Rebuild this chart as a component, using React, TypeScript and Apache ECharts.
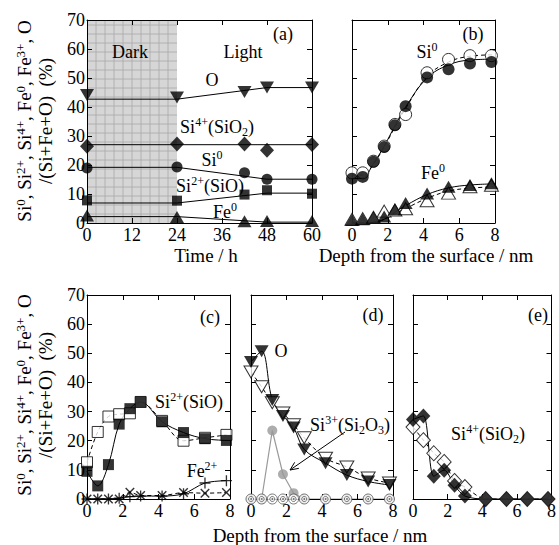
import React, { useEffect, useRef } from 'react';
import * as echarts from 'echarts';

// ---------------- Data ----------------
// Panel (a): time dependence
const timeH = [0, 24, 42, 48, 60];
const aO = [44.1, 43.3, 45.2, 46.7, 46.7];
const aSi4 = [26.5, 27.2, 27.2, 25.1, 27.1];
const aSi0 = [19.0, 19.3, 17.3, 15.1, 15.1];
const aSi2 = [7.8, 7.7, 9.8, 11.3, 10.1];
const aFe0 = [2.6, 2.1, 0.6, 0.7, 0.7];
// guide lines of panel (a)
const fitTime = [0, 24, 48, 60];
const aOFit = [42.7, 42.7, 46.7, 46.7];
const aSi4Fit = [27.0, 27.0, 27.0, 27.0];
const aSi0Fit = [19.2, 19.2, 15.1, 15.1];
const aSi2Fit = [6.9, 6.9, 10.3, 10.3];
const aFe0Fit = [2.2, 2.2, 0.3, 0.3];
const darkPeriod = [0, 24];

// Depth profiles
const depth = [0, 0.6, 1.2, 1.8, 2.4, 3.0, 4.2, 5.4, 6.6, 7.8];
const fitDepth = [0, 0.6, 1.2, 1.8, 2.4, 3.0, 4.2, 5.4, 6.6, 8.0];

// Panel (b)
const bSi0Filled = [15.3, 15.9, 21.1, 26.2, 33.7, 40.3, 50.2, 53.0, 55.0, 55.5];
const bSi0Open = [17.3, 17.3, 21.3, 26.5, 34.0, 37.4, 51.8, 56.4, 57.7, 57.7];
const bFe0Filled = [1.0, 1.3, 2.0, 2.2, 4.7, 6.9, 10.2, 12.5, 13.1, 13.7];
const bFe0Open = [1.3, 1.5, 2.0, 4.1, 4.5, 4.9, 7.7, 10.3, 12.5, 13.0];
const bSi0FitSolid = [15.3, 15.6, 20.5, 26.5, 33.5, 40.0, 50.0, 54.5, 56.2, 56.5];
const bSi0FitDash = [16.5, 16.5, 20.3, 26.3, 33.0, 39.5, 50.5, 55.5, 57.5, 58.0];
const bFe0FitSolid = [0.2, 0.0, 0.3, 1.3, 3.7, 6.0, 9.8, 12.1, 13.1, 13.5];
const bFe0FitDash = [0.1, 0.0, 0.2, 1.2, 3.2, 5.0, 8.5, 11.0, 12.0, 12.5];

// Panel (c)
const cSi2Filled = [9.5, 4.5, 11.8, 25.7, 31.0, 33.3, 26.5, 22.8, 20.7, 20.1];
const cSi2Open = [12.6, 23.0, 28.3, 29.1, 29.4, 33.3, 26.8, 20.0, 21.0, 22.0];
const cFePlus = [0, 0, 0, 0.3, 0.8, 1.0, 1.0, 1.8, 5.5, 6.3];
const cFeCross = [0, 0, 0, 0, 2.3, 1.2, 1.2, 2.2, 2.0, 2.2];

// Panel (d)
const dOFilled = [47.0, 50.7, 34.0, 28.5, 24.5, 17.0, 12.3, 8.2, 6.0, 4.8];
const dOOpen = [43.6, 38.5, 33.0, 29.5, 25.5, 21.0, 14.0, 11.0, 7.2, 5.5];
const dSi3Filled = [0, 0, 23.5, 8.5, 2.0, 0, 0, 0, 0, 0];
const dSi3Open = [0, 0, 0, 0, 0, 0, 0, 0, 0, 0];

// Panel (e)
const eSi4Filled = [27.3, 28.5, 7.8, 9.9, 4.7, 1.0, 0, 0, 0, 0];
const eSi4Open = [24.7, 20.2, 15.7, 12.7, 6.2, 4.1, 0, 0, 0, 0];

// Axis ticks
const pctMin = 0, pctMax = 70, pctStep = 10;
const timeMin = 0, timeMax = 60, timeStep = 12;
const depthMin = 0, depthMax = 8, depthStep = 2;

// ---------------- Styling helpers ----------------
const FONT = '"Liberation Serif", "Times New Roman", Times, serif';
const PLUS = 'path://M4.4,0H5.6V4.4H10V5.6H5.6V10H4.4V5.6H0V4.4H4.4Z';

const pts = (xs: number[], ys: number[]) => xs.map((x, i) => [x, ys[i]]);

function xAxesFor(gi: number, min: number, max: number, interval: number) {
  const base: any = {
    type: 'value', gridIndex: gi, min, max, interval, z: 4,
    splitLine: { show: false },
    axisLine: { show: true, onZero: false, lineStyle: { color: '#000', width: 1 } },
    axisTick: { show: true, inside: true, length: 5, lineStyle: { color: '#000', width: 1 } },
  };
  return [
    { ...base, position: 'bottom', axisLabel: { show: true, margin: 3, color: '#000', fontFamily: FONT, fontSize: 18 } },
    { ...base, position: 'top', axisLabel: { show: false } },
  ];
}
function yAxesFor(gi: number, labels: boolean) {
  const base: any = {
    type: 'value', gridIndex: gi, min: pctMin, max: pctMax, interval: pctStep, z: 4,
    splitLine: { show: false },
    axisLine: { show: true, onZero: false, lineStyle: { color: '#000', width: 1 } },
    axisTick: { show: true, inside: true, length: 5, lineStyle: { color: '#000', width: 1 } },
  };
  return [
    { ...base, position: 'left', axisLabel: { show: labels, margin: 2, color: '#000', fontFamily: FONT, fontSize: 18 } },
    { ...base, position: 'right', axisLabel: { show: false } },
  ];
}

function markers(gi: number, xs: number[], ys: number[], symbol: string, size: any, filled: boolean, extra: any = {}) {
  return {
    type: 'scatter', xAxisIndex: 2 * gi, yAxisIndex: 2 * gi, data: pts(xs, ys),
    symbol, symbolSize: size, clip: false, z: 6, silent: true,
    itemStyle: filled ? { color: '#000' } : { color: '#fff', borderColor: '#000', borderWidth: 1 },
    ...extra,
  };
}
function curve(gi: number, xs: number[], ys: number[], dashed: boolean, smooth: any, extra: any = {}) {
  return {
    type: 'line', xAxisIndex: 2 * gi, yAxisIndex: 2 * gi, data: pts(xs, ys),
    symbol: 'none', smooth, clip: false, z: 3, silent: true,
    lineStyle: { color: '#000', width: 1, type: dashed ? [4, 3] : 'solid' },
    ...extra,
  };
}

const rich: any = {
  n: { fontFamily: FONT, fontSize: 18, color: '#000', lineHeight: 22 },
  sup: { fontFamily: FONT, fontSize: 12, color: '#000', lineHeight: 12, verticalAlign: 'top' },
  sub: { fontFamily: FONT, fontSize: 12, color: '#000', lineHeight: 12, verticalAlign: 'bottom' },
};
const richTitle: any = {
  n: { fontFamily: FONT, fontSize: 19, color: '#000', lineHeight: 21 },
  sup: { fontFamily: FONT, fontSize: 13, color: '#000', lineHeight: 12, verticalAlign: 'top' },
};

function label(x: number, y: number, text: string, r: any = rich, rotation = 0) {
  return {
    type: 'text', x, y, rotation, z: 10, silent: true,
    style: {
      text, rich: r, fontFamily: FONT, fontSize: 18, fill: '#000',
      align: 'center', verticalAlign: 'middle', textAlign: 'center', textVerticalAlign: 'middle',
    },
  };
}

const yTitle = '{n|Si}{sup|0}{n|, Si}{sup|2+}{n|, Si}{sup|4+}{n|, Fe}{sup|0}{n|, Fe}{sup|3+}{n|, O}\n{n|/(Si+Fe+O)  (%)}';

function buildOption(): any {
  const grids = [
    { left: 87, top: 20, width: 225, height: 203 },
    { left: 352, top: 20, width: 143, height: 203 },
    { left: 87, top: 295, width: 143, height: 204 },
    { left: 251, top: 295, width: 142, height: 204 },
    { left: 413, top: 295, width: 143, height: 204 },
  ];
  const xAxis = [
    ...xAxesFor(0, timeMin, timeMax, timeStep),
    ...xAxesFor(1, depthMin, depthMax, depthStep),
    ...xAxesFor(2, depthMin, depthMax, depthStep),
    ...xAxesFor(3, depthMin, depthMax, depthStep),
    ...xAxesFor(4, depthMin, depthMax, depthStep),
  ];
  const yAxis = [
    ...yAxesFor(0, true),
    ...yAxesFor(1, false),
    ...yAxesFor(2, true),
    ...yAxesFor(3, false),
    ...yAxesFor(4, false),
  ];

  const dark = {
    type: 'custom', xAxisIndex: 0, yAxisIndex: 0, z: 1, silent: true,
    data: [darkPeriod], encode: { x: [0, 1] },
    renderItem: (_p: any, api: any) => {
      const p0 = api.coord([api.value(0), pctMax]);
      const p1 = api.coord([api.value(1), pctMin]);
      const children: any[] = [{
        type: 'rect', shape: { x: p0[0], y: p0[1], width: p1[0] - p0[0], height: p1[1] - p0[1] },
        style: { fill: '#d6d6d6' },
      }];
      for (let x = p0[0] + 9; x < p1[0] - 1; x += 9) {
        children.push({ type: 'line', shape: { x1: x, y1: p0[1], x2: x, y2: p1[1] }, style: { stroke: '#a8a8a8', lineWidth: 0.8 } });
      }
      for (let y = p1[1] - 9; y > p0[1] + 1; y -= 9) {
        children.push({ type: 'line', shape: { x1: p0[0], y1: y, x2: p1[0], y2: y }, style: { stroke: '#a8a8a8', lineWidth: 0.8 } });
      }
      return { type: 'group', children };
    },
  };

  const triDown = { symbolRotate: 180 };
  const series: any[] = [
    dark,
    // (a)
    curve(0, fitTime, aOFit, false, false),
    curve(0, fitTime, aSi4Fit, false, false),
    curve(0, fitTime, aSi0Fit, false, false),
    curve(0, fitTime, aSi2Fit, false, false),
    curve(0, fitTime, aFe0Fit, false, false),
    markers(0, timeH, aO, 'triangle', [14, 12], true, triDown),
    markers(0, timeH, aSi4, 'diamond', [14, 15], true),
    markers(0, timeH, aSi0, 'circle', 11, true),
    markers(0, timeH, aSi2, 'rect', 10, true),
    markers(0, timeH, aFe0, 'triangle', [14, 12], true),
    // (b)
    curve(1, fitDepth, bSi0FitDash, true, 0.4),
    markers(1, depth, bSi0Open, 'circle', 12, false),
    curve(1, fitDepth, bSi0FitSolid, false, 0.4),
    markers(1, depth, bSi0Filled, 'circle', 12, true),
    curve(1, fitDepth, bFe0FitDash, true, 0.4),
    markers(1, depth, bFe0Open, 'triangle', [14, 12], false),
    curve(1, fitDepth, bFe0FitSolid, false, 0.4),
    markers(1, depth, bFe0Filled, 'triangle', [14, 12], true),
    // (c)
    curve(2, depth, cSi2Open, true, 0.35),
    markers(2, depth, cSi2Open, 'rect', 11, false),
    curve(2, depth, cSi2Filled, false, 0.35),
    markers(2, depth, cSi2Filled, 'rect', 11, true),
    curve(2, depth, cFeCross, true, 0.3),
    markers(2, depth, cFeCross, PLUS, 12, true, { symbolRotate: 45 }),
    curve(2, depth, cFePlus, false, 0.3),
    markers(2, depth, cFePlus, PLUS, 11, true),
    // (d)
    curve(3, depth, dOOpen, true, 0.35),
    markers(3, depth, dOOpen, 'triangle', [14, 12], false, triDown),
    curve(3, depth, dOFilled, false, 0.35),
    markers(3, depth, dOFilled, 'triangle', [14, 12], true, triDown),
    curve(3, depth, dSi3Filled, false, false, { lineStyle: { color: '#999', width: 1.2 } }),
    markers(3, depth, dSi3Filled, 'circle', 10, true, { itemStyle: { color: '#999' } }),
    markers(3, depth, dSi3Open, 'circle', 10, false, { itemStyle: { color: '#fff', borderColor: '#555', borderWidth: 1 } }),
    markers(3, depth, dSi3Open, 'circle', 5, false, { itemStyle: { color: '#fff', borderColor: '#555', borderWidth: 1 } }),
    markers(3, depth, dSi3Open, 'circle', 2, true, { itemStyle: { color: '#555' } }),
    // (e)
    curve(4, depth, eSi4Open, true, 0.3),
    markers(4, depth, eSi4Open, 'diamond', [14, 15], false),
    curve(4, depth, eSi4Filled, false, 0.3),
    markers(4, depth, eSi4Filled, 'diamond', [14, 15], true),
  ];

  // arrow for Si3+ label in (d)
  const ax0 = [345, 432], ax1 = [290, 470];
  const dx = ax0[0] - ax1[0], dy = ax0[1] - ax1[1];
  const len = Math.hypot(dx, dy);
  const ux = dx / len, uy = dy / len;
  const ang = 0.42, hl = 9;
  const h1 = [ax1[0] + hl * (ux * Math.cos(ang) - uy * Math.sin(ang)), ax1[1] + hl * (ux * Math.sin(ang) + uy * Math.cos(ang))];
  const h2 = [ax1[0] + hl * (ux * Math.cos(-ang) - uy * Math.sin(-ang)), ax1[1] + hl * (ux * Math.sin(-ang) + uy * Math.cos(-ang))];

  const graphic: any[] = [
    // axis titles
    label(206, 255, '{n|Time / h}', { n: { ...rich.n, fontSize: 19 } }),
    label(426, 255, '{n|Depth from the surface / nm}', { n: { ...rich.n, fontSize: 19 } }),
    label(320, 535, '{n|Depth from the surface / nm}', { n: { ...rich.n, fontSize: 19 } }),
    label(35, 121, yTitle, richTitle, Math.PI / 2),
    label(35, 395, yTitle, richTitle, Math.PI / 2),
    // panel (a)
    label(130, 52, '{n|Dark}'),
    label(243, 52, '{n|Light}'),
    label(283, 34, '{n|(a)}'),
    label(212, 80, '{n|O}'),
    label(217, 127, '{n|Si}{sup|4+}{n|(SiO}{sub|2}{n|)}'),
    label(212, 160, '{n|Si}{sup|0}'),
    label(210, 186, '{n|Si}{sup|2+}{n|(SiO)}'),
    label(225, 212, '{n|Fe}{sup|0}'),
    // panel (b)
    label(473, 34, '{n|(b)}'),
    label(427, 52, '{n|Si}{sup|0}'),
    label(433, 173, '{n|Fe}{sup|0}'),
    // panel (c)
    label(210, 317, '{n|(c)}'),
    label(189, 402, '{n|Si}{sup|2+}{n|(SiO)}'),
    label(202, 471, '{n|Fe}{sup|2+}'),
    // panel (d)
    label(373, 315, '{n|(d)}'),
    label(281, 351, '{n|O}'),
    label(350, 425, '{n|Si}{sup|3+}{n|(Si}{sub|2}{n|O}{sub|3}{n|)}'),
    { type: 'line', z: 10, silent: true, shape: { x1: ax0[0], y1: ax0[1], x2: ax1[0], y2: ax1[1] }, style: { stroke: '#000', lineWidth: 1 } },
    { type: 'polyline', z: 10, silent: true, shape: { points: [h1, ax1, h2] }, style: { stroke: '#000', lineWidth: 1, fill: null } },
    // panel (e)
    label(538, 315, '{n|(e)}'),
    label(488, 434, '{n|Si}{sup|4+}{n|(SiO}{sub|2}{n|)}'),
  ];

  return {
    animation: false,
    backgroundColor: '#fff',
    grid: grids.map((g) => ({ ...g, containLabel: false, show: false })),
    xAxis,
    yAxis,
    series,
    graphic,
  };
}

export default function App() {
  const ref = useRef<HTMLDivElement>(null);
  useEffect(() => {
    if (!ref.current) return;
    const chart = echarts.init(ref.current, null, { renderer: 'svg' });
    chart.setOption(buildOption());
    return () => chart.dispose();
  }, []);
  return (
    <div
      ref={ref}
      style={{ position: 'fixed', left: 0, top: 0, width: 559, height: 545, background: '#fff' }}
    />
  );
}
